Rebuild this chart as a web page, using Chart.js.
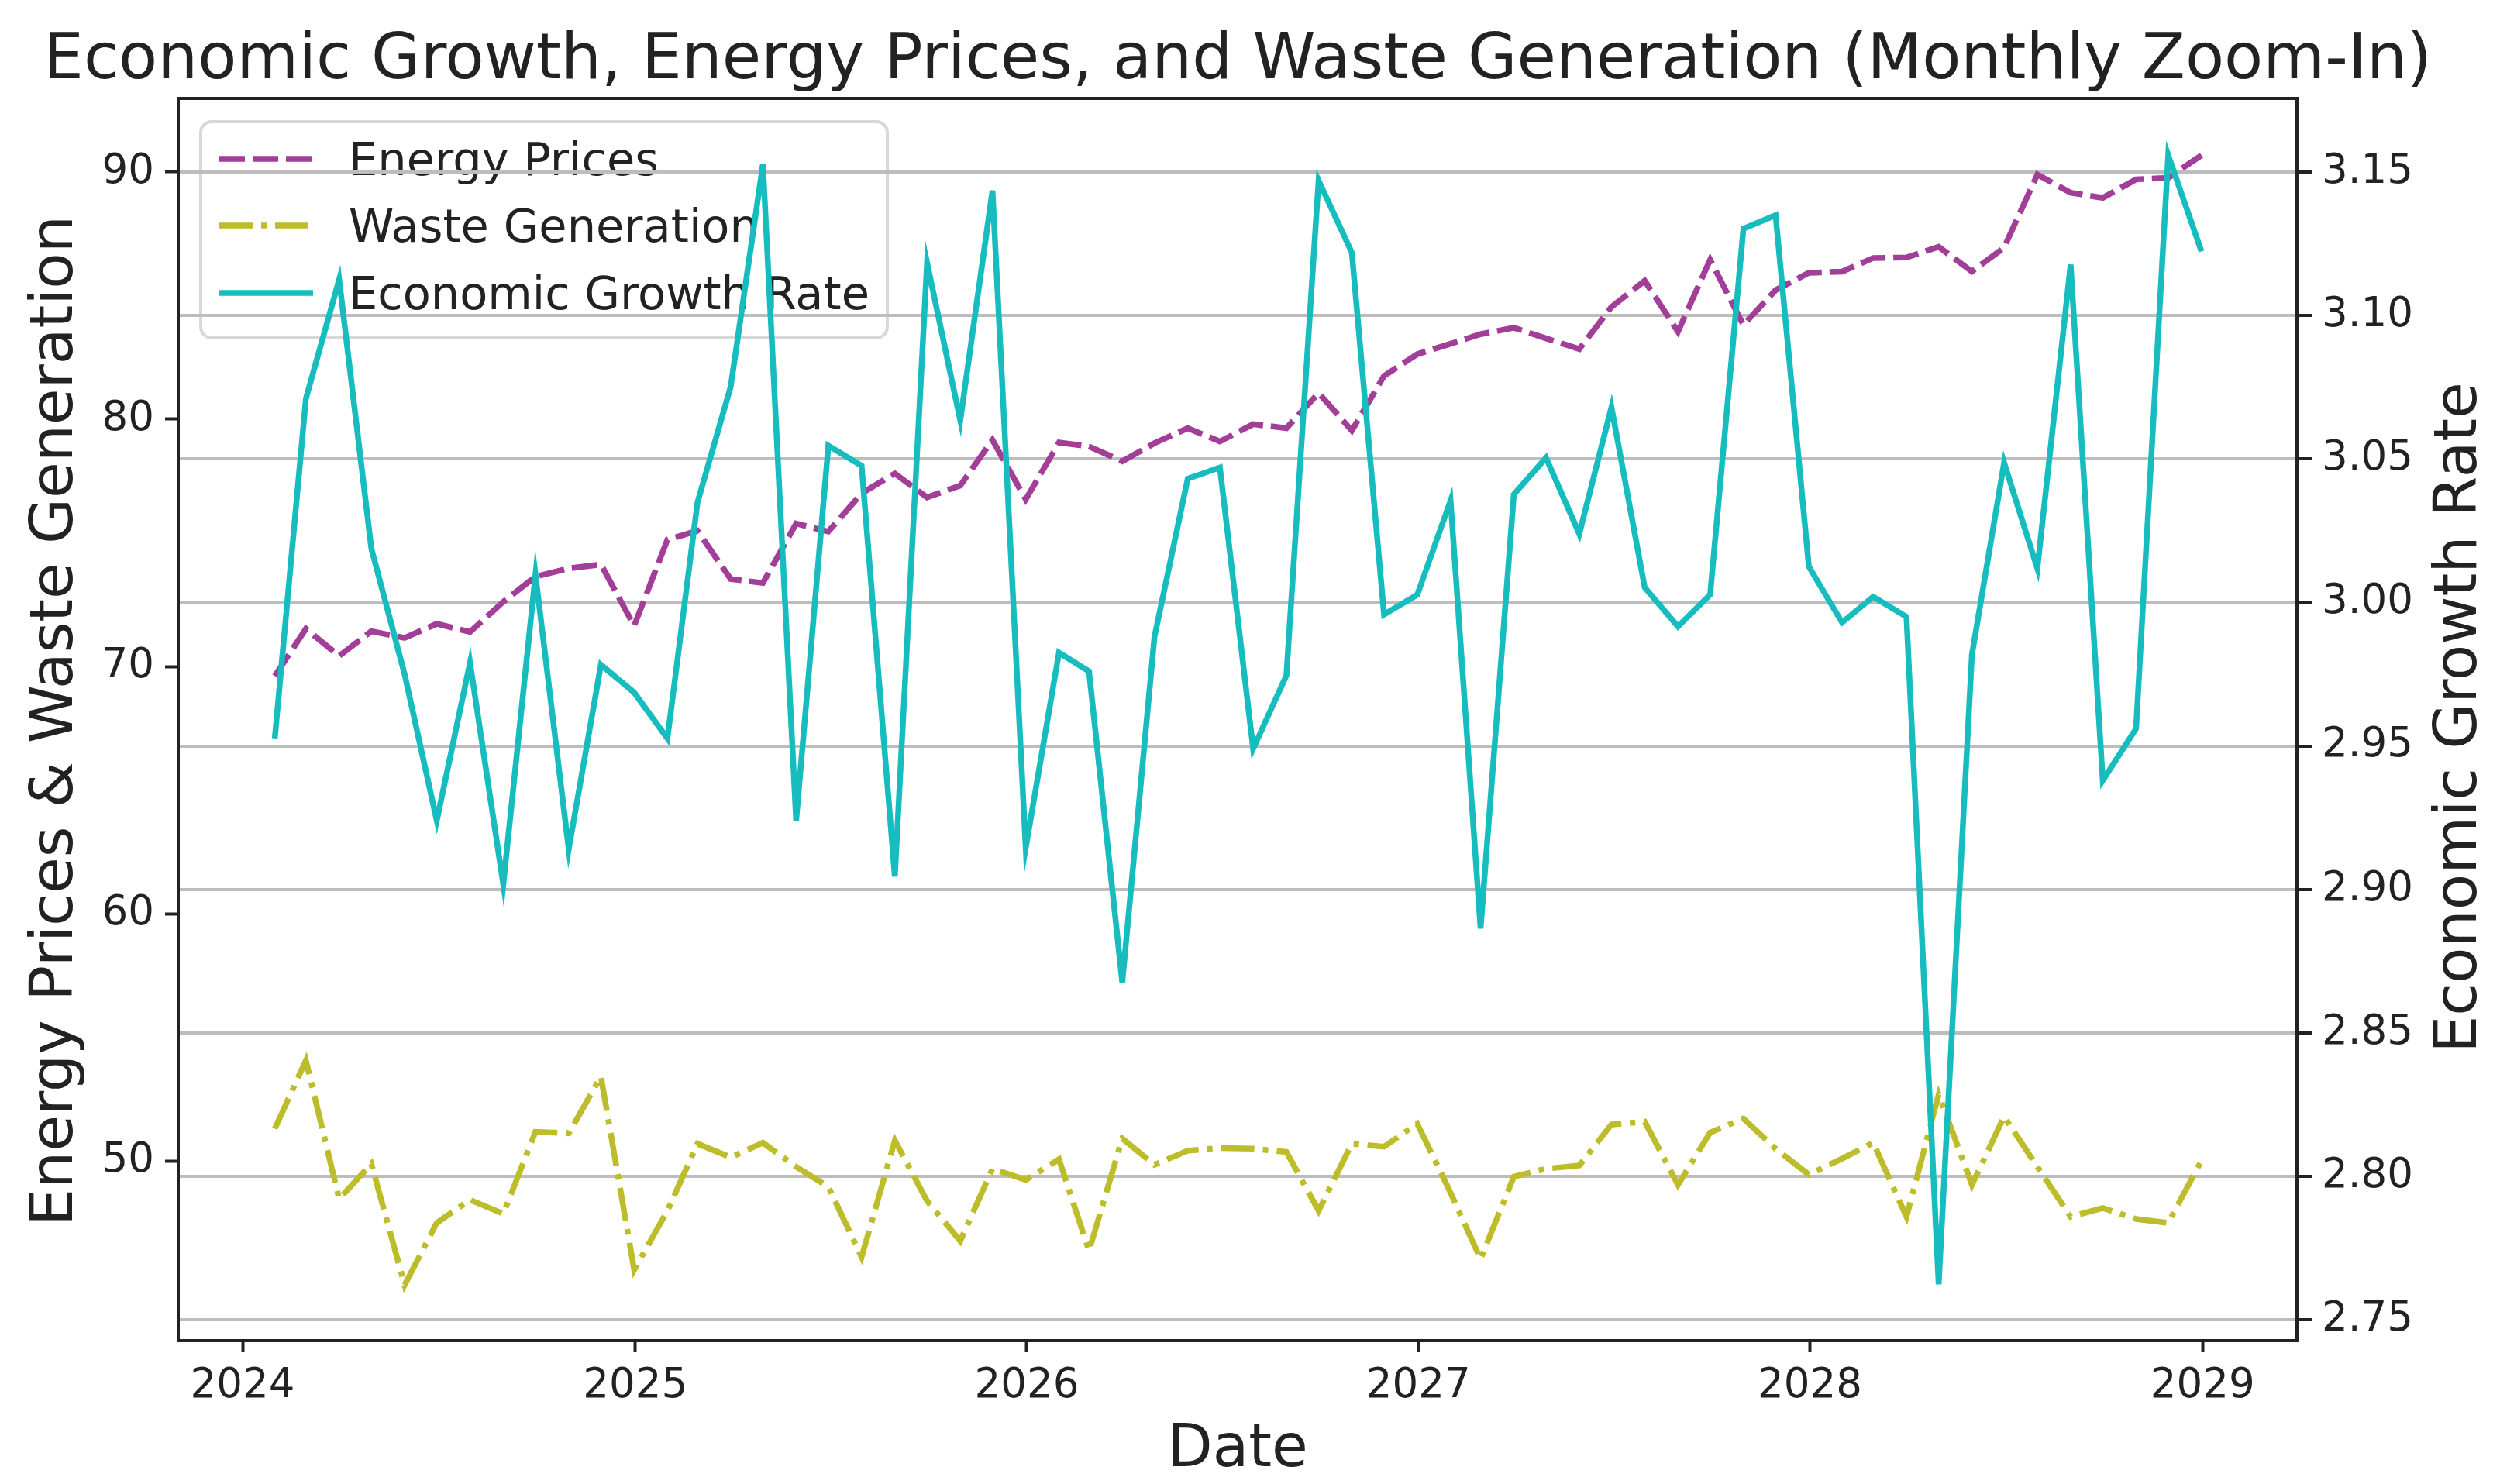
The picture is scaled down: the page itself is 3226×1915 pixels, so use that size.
<!DOCTYPE html>
<html>
<head>
<meta charset="utf-8">
<title>Economic Growth, Energy Prices, and Waste Generation</title>
<script src="https://cdn.jsdelivr.net/npm/chart.js@4.4.1/dist/chart.umd.min.js"></script>
<style>
    html, body { margin: 0; padding: 0; background: #ffffff; }
    #chart { display: block; }
</style>
</head>
<body>
<canvas id="chart" width="3226" height="1915" style="width:3226px;height:1915px"></canvas>
<script>
// month-end dates of the series
const dates = [
    '2024-01-31', '2024-02-29', '2024-03-31', '2024-04-30', '2024-05-31', '2024-06-30', '2024-07-31', '2024-08-31', '2024-09-30', '2024-10-31', '2024-11-30', '2024-12-31',
    '2025-01-31', '2025-02-28', '2025-03-31', '2025-04-30', '2025-05-31', '2025-06-30', '2025-07-31', '2025-08-31', '2025-09-30', '2025-10-31', '2025-11-30', '2025-12-31',
    '2026-01-31', '2026-02-28', '2026-03-31', '2026-04-30', '2026-05-31', '2026-06-30', '2026-07-31', '2026-08-31', '2026-09-30', '2026-10-31', '2026-11-30', '2026-12-31',
    '2027-01-31', '2027-02-28', '2027-03-31', '2027-04-30', '2027-05-31', '2027-06-30', '2027-07-31', '2027-08-31', '2027-09-30', '2027-10-31', '2027-11-30', '2027-12-31',
    '2028-01-31', '2028-02-29', '2028-03-31', '2028-04-30', '2028-05-31', '2028-06-30', '2028-07-31', '2028-08-31', '2028-09-30', '2028-10-31', '2028-11-30', '2028-12-31'
];

const energyPrices = [
    69.62, 71.53, 70.43, 71.43, 71.16, 71.73, 71.40, 72.62, 73.64, 73.97, 74.13, 71.65,
    75.13, 75.49, 73.54, 73.38, 75.78, 75.46, 77.00, 77.81, 76.84, 77.32, 79.16, 76.76,
    79.06, 78.90, 78.30, 79.03, 79.64, 79.10, 79.80, 79.64, 81.06, 79.54, 81.75, 82.63,
    83.05, 83.44, 83.70, 83.27, 82.84, 84.54, 85.60, 83.54, 86.45, 83.81, 85.22, 85.92,
    85.97, 86.52, 86.54, 86.97, 85.97, 86.94, 89.89, 89.16, 88.95, 89.70, 89.76, 90.67
];

const wasteGeneration = [
    51.32, 54.08, 48.48, 49.90, 45.00, 47.51, 48.44, 47.88, 51.19, 51.13, 53.43, 45.61,
    48.00, 50.71, 50.16, 50.75, 49.78, 48.97, 46.13, 50.84, 48.40, 46.78, 49.70, 49.25,
    50.08, 46.38, 50.92, 49.86, 50.43, 50.54, 50.51, 50.38, 48.00, 50.71, 50.59, 51.52,
    48.73, 46.05, 49.38, 49.70, 49.83, 51.49, 51.60, 49.05, 51.16, 51.73, 50.51, 49.46,
    50.11, 50.75, 47.76, 52.70, 49.05, 51.81, 49.78, 47.76, 48.11, 47.67, 47.51, 50.03
];

const growthRate = [
    2.9526, 3.0710, 3.1125, 3.0188, 2.9750, 2.9240, 2.9790, 2.9017, 3.0097, 2.9140, 2.9783, 2.9686,
    2.9526, 3.0348, 3.0752, 3.1526, 2.9240, 3.0546, 3.0476, 2.9045, 3.1184, 3.0634, 3.1435, 2.9145,
    2.9825, 2.9760, 2.8676, 2.9880, 3.0431, 3.0470, 2.9490, 2.9746, 3.1470, 3.1219, 2.9958, 3.0027,
    3.0355, 2.8864, 3.0376, 3.0504, 3.0239, 3.0680, 3.0052, 2.9916, 3.0027, 3.1302, 3.1349, 3.0125,
    2.9930, 3.0020, 2.9950, 2.7624, 2.9818, 3.0487, 3.0118, 3.1177, 2.9380, 2.9560, 3.1558, 3.1223
];

const yearTicks = [2024, 2025, 2026, 2027, 2028, 2029];
const leftTicks = [50, 60, 70, 80, 90];
const rightTicks = [2.75, 2.80, 2.85, 2.90, 2.95, 3.00, 3.05, 3.10, 3.15];

const seriesNames = ['Energy Prices', 'Waste Generation', 'Economic Growth Rate'];
const seriesColors = ['#a23e97', '#bdbd2c', '#17bcbf'];
const seriesDashes = [[33, 10], [43, 11, 7, 11], []];

const FONT = 'DejaVu Sans';
const TEXT = '#222222';
const LINE_W = 7.5;

function toMs(s) {
    const [y, m, d] = s.split('-').map(Number);
    return Date.UTC(y, m - 1, d);
}

function points(values) {
    return values.map((v, i) => ({x: toMs(dates[i]), y: v}));
}

// legend sits under the grid and the growth line (it belongs to the first axes)
const legendUnder = {
    id: 'legendUnder',
    beforeDraw(chart) {
        const ctx = chart.ctx;
        ctx.save();
        ctx.fillStyle = '#ffffff';
        ctx.strokeStyle = '#d8d8d8';
        ctx.lineWidth = 4;
        ctx.beginPath();
        ctx.roundRect(259, 157, 886, 279, 14);
        ctx.fill();
        ctx.stroke();

        const rows = [205, 291, 378];
        ctx.font = `59px "${FONT}"`;
        ctx.textAlign = 'left';
        ctx.textBaseline = 'alphabetic';
        seriesNames.forEach((name, i) => {
            ctx.strokeStyle = seriesColors[i];
            ctx.lineWidth = LINE_W;
            ctx.lineCap = 'butt';
            ctx.setLineDash(seriesDashes[i]);
            ctx.beginPath();
            ctx.moveTo(283, rows[i]);
            ctx.lineTo(404, rows[i]);
            ctx.stroke();
            ctx.setLineDash([]);
            ctx.fillStyle = TEXT;
            ctx.fillText(name, 450, rows[i] + 21);
        });
        ctx.restore();
    }
};

const frameAndText = {
    id: 'frameAndText',
    afterDraw(chart) {
        const ctx = chart.ctx;
        const a = chart.chartArea;
        ctx.save();
        ctx.strokeStyle = TEXT;
        ctx.lineWidth = 4;
        ctx.strokeRect(a.left, a.top, a.right - a.left, a.bottom - a.top);

        ctx.fillStyle = TEXT;
        ctx.textAlign = 'center';
        ctx.textBaseline = 'alphabetic';
        ctx.font = `82px "${FONT}"`;
        ctx.fillText('Economic Growth, Energy Prices, and Waste Generation (Monthly Zoom-In)', (a.left + a.right) / 2, 101);

        ctx.font = `76px "${FONT}"`;
        ctx.fillText('Date', (a.left + a.right) / 2, 1892);

        ctx.save();
        ctx.translate(93, 930);
        ctx.rotate(-Math.PI / 2);
        ctx.fillText('Energy Prices & Waste Generation', 0, 0);
        ctx.restore();

        ctx.save();
        ctx.translate(3195, 926);
        ctx.rotate(-Math.PI / 2);
        ctx.fillText('Economic Growth Rate', 0, 0);
        ctx.restore();
        ctx.restore();
    }
};

Chart.defaults.font.family = FONT;

const ctx = document.getElementById('chart').getContext('2d');
window.mainChart = new Chart(ctx, {
    type: 'line',
    data: {
        datasets: [
            {
                label: seriesNames[0],
                data: points(energyPrices),
                yAxisID: 'y',
                borderColor: seriesColors[0],
                borderDash: seriesDashes[0],
                borderWidth: LINE_W,
                pointRadius: 0,
                tension: 0,
                fill: false,
                order: 2
            },
            {
                label: seriesNames[1],
                data: points(wasteGeneration),
                yAxisID: 'y',
                borderColor: seriesColors[1],
                borderDash: seriesDashes[1],
                borderWidth: LINE_W,
                pointRadius: 0,
                tension: 0,
                fill: false,
                order: 1
            },
            {
                label: seriesNames[2],
                data: points(growthRate),
                yAxisID: 'y1',
                borderColor: seriesColors[2],
                borderWidth: LINE_W,
                pointRadius: 0,
                tension: 0,
                fill: false,
                order: 0
            }
        ]
    },
    options: {
        responsive: false,
        animation: false,
        devicePixelRatio: 1,
        layout: {
            padding: {top: 127, left: 0, right: 0, bottom: 0}
        },
        plugins: {
            legend: {display: false},
            tooltip: {enabled: false},
            title: {display: false}
        },
        scales: {
            x: {
                type: 'linear',
                min: Date.UTC(2023, 10, 2),
                max: Date.UTC(2029, 2, 30),
                afterBuildTicks: scale => {
                    scale.ticks = yearTicks.map(y => ({value: Date.UTC(y, 0, 1)}));
                },
                afterFit: scale => { scale.height = 185; },
                ticks: {
                    callback: value => String(new Date(value).getUTCFullYear()),
                    font: {size: 53},
                    color: TEXT,
                    padding: 12,
                    maxRotation: 0,
                    autoSkip: false
                },
                grid: {
                    display: true,
                    drawOnChartArea: false,
                    tickLength: 15,
                    tickWidth: 4,
                    tickColor: TEXT
                },
                border: {display: false}
            },
            y: {
                type: 'linear',
                position: 'left',
                min: 42.75,
                max: 92.97,
                afterBuildTicks: scale => {
                    scale.ticks = leftTicks.map(v => ({value: v}));
                },
                afterFit: scale => { scale.width = 230; },
                ticks: {
                    callback: value => String(value),
                    font: {size: 53},
                    color: TEXT,
                    padding: 14
                },
                grid: {
                    display: true,
                    drawOnChartArea: false,
                    tickLength: 17,
                    tickWidth: 4,
                    tickColor: TEXT
                },
                border: {display: false}
            },
            y1: {
                type: 'linear',
                position: 'right',
                min: 2.7428,
                max: 3.1756,
                afterBuildTicks: scale => {
                    scale.ticks = rightTicks.map(v => ({value: v}));
                },
                afterFit: scale => { scale.width = 262; },
                ticks: {
                    callback: value => value.toFixed(2),
                    font: {size: 53},
                    color: TEXT,
                    padding: 12
                },
                grid: {
                    display: true,
                    drawOnChartArea: true,
                    color: '#bdbdbd',
                    lineWidth: 4,
                    tickLength: 20,
                    tickWidth: 4,
                    tickColor: TEXT
                },
                border: {display: false}
            }
        }
    },
    plugins: [legendUnder, frameAndText]
});
</script>
</body>
</html>
